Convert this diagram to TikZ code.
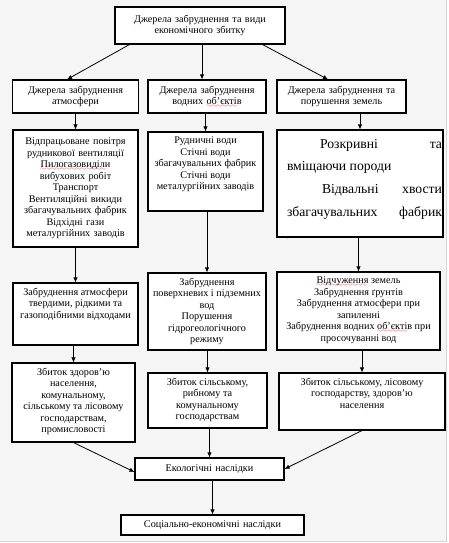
\documentclass[tikz,border=0pt]{standalone}
\usepackage{fontspec}
\setmainfont{Liberation Serif}
\usetikzlibrary{arrows.meta}

% red spell-check wave under a word
\font\wavefont=lasy6
\newcommand{\spell}[1]{\leavevmode\setbox0\hbox{#1}%
  \rlap{\lower2.8pt\hbox to \wd0{\color{red}\leaders\hbox{\wavefont\char58}\hfil}}\box0\relax}
% top-aligned box text: width, height, text
\newcommand{\cell}[3]{\parbox[c][#2][t]{#1}{\centering\vspace*{5pt}#3\par}}

\begin{document}
\begin{tikzpicture}[x=1pt, y=-1pt,
  box/.style={draw, line width=1.1pt, fill=white, inner sep=0pt, align=center,
    font=\fontsize{10.2}{11.5}\selectfont},
  arr/.style={-{Latex[length=5pt,width=4.5pt]}, line width=0.8pt}]

  \useasboundingbox (0,0) rectangle (448,543);
  % Background
  \fill[black!4] (0,0) rectangle (446.5,541);
  \draw[black!16, line width=1pt] (446.5,0) -- (446.5,541) -- (0,541);

  % Top
  \node[box, text width=170pt, minimum height=37pt] (top) at (200,25.5)
    {Джерела забруднення та види\\економічного збитку};

  % Row 2: sources
  \node[box, text width=126pt, minimum height=33pt] (a1) at (75.5,96.5)
    {Джерела забруднення\\атмосфери};
  \node[box, text width=118pt, minimum height=33pt] (w1) at (207,96.5)
    {Джерела забруднення\\водних \spell{об’єктів}};
  \node[box, text width=129pt, minimum height=33pt] (l1) at (341.5,96.5)
    {Джерела забруднення та\\порушення земель};

  % Row 3: what pollutes
  \node[box, text width=125pt, minimum height=117pt] (a2) at (75.5,188.5)
    {Відпрацьоване повітря\\рудникової вентиляції\\\spell{Пилогазовиділи}\\вибухових робіт\\Транспорт\\Вентиляційні викиди\\збагачувальних фабрик\\Відхідні гази\\металургійних заводів};
  \node[box] (w2) at (205.5,171.5)
    {\cell{115pt}{79pt}{Рудничні води\\Стічні води\\збагачувальних фабрик\\Стічні води\\металургійних заводів}};
  \node[box] (l2) at (360,183.5)
    {\parbox[c][107pt][t]{166pt}{\fontsize{13.7}{22.7}\selectfont\leftskip=10pt\rightskip=1pt\vspace*{9pt}%
      \hspace*{33pt}Розкривні\hfill та\\вміщаючи породи\\\hspace*{35pt}Відвальні\hfill хвости\\збагачувальних\hfill фабрик\\{\tiny ,}\par}};

  % Row 4: kinds of pollution
  \node[box] (a3) at (75.5,314)
    {\cell{125pt}{62pt}{Забруднення атмосфери\\твердими, рідкими та\\газоподібними відходами}};
  \node[box] (w3) at (207,311.5)
    {\cell{118pt}{77pt}{Забруднення\\поверхневих і підземних\\вод\\Порушення\\гідрогеологічного\\режиму}};
  \node[box] (l3) at (358.5,311)
    {\cell{163pt}{78pt}{\spell{Відчуження} земель\\Забруднення ґрунтів\\Забруднення атмосфери при\\запиленні\\Забруднення водних \spell{об’єктів} при\\просочуванні вод}};

  % Row 5: damage
  \node[box] (a4) at (73.5,402.5)
    {\cell{123pt}{79pt}{Збиток здоров’ю\\населення,\\комунальному,\\сільському та лісовому\\господарствам,\\промисловості}};
  \node[box] (w4) at (207.5,400.5)
    {\cell{119pt}{55pt}{Збиток сільському,\\рибному та\\комунальному\\господарствам}};
  \node[box] (l4) at (362,401.5)
    {\cell{166pt}{57pt}{Збиток сільському, лісовому\\господарству, здоров’ю\\населення}};

  % Consequences
  \node[box, text width=149pt, minimum height=22pt] (eco) at (209.5,469) {Екологічні наслідки};
  \node[box, text width=183pt, minimum height=20pt] (soc) at (212.5,525) {Соціально-економічні наслідки};

  % Arrows
  \coordinate (m0) at ([xshift=2pt]top.south);
  \draw[arr] ([xshift=15pt]top.south west) -- ([xshift=-8.5pt]a1.north);
  \draw[arr] (m0) -- (m0 |- w1.north);
  \draw[arr] ([xshift=-23pt]top.south east) -- ([xshift=-13.5pt]l1.north);

  \draw[arr] (a1) -- (a2);
  \draw[arr] (w1.south -| w2) -- (w2);
  \draw[arr] (l1.south -| l2) -- (l2);

  \draw[arr] (a2) -- (a3);
  \draw[arr] (w2.south -| w3) -- (w3);
  \draw[arr] (l2.south -| l3) -- (l3);

  \draw[arr] (a3.south -| a4) -- (a4);
  \draw[arr] (w3.south -| w4) -- (w4);
  \draw[arr] (l3.south -| l4) -- (l4);

  \draw[arr] (a4.south) -- ([yshift=-3pt]eco.west);
  \draw[arr] (w4.south -| eco) -- (eco);
  \draw[arr] (l4.south) -- (eco.east);
  \draw[arr] (eco.south -| soc) -- (soc);
\end{tikzpicture}
\end{document}
